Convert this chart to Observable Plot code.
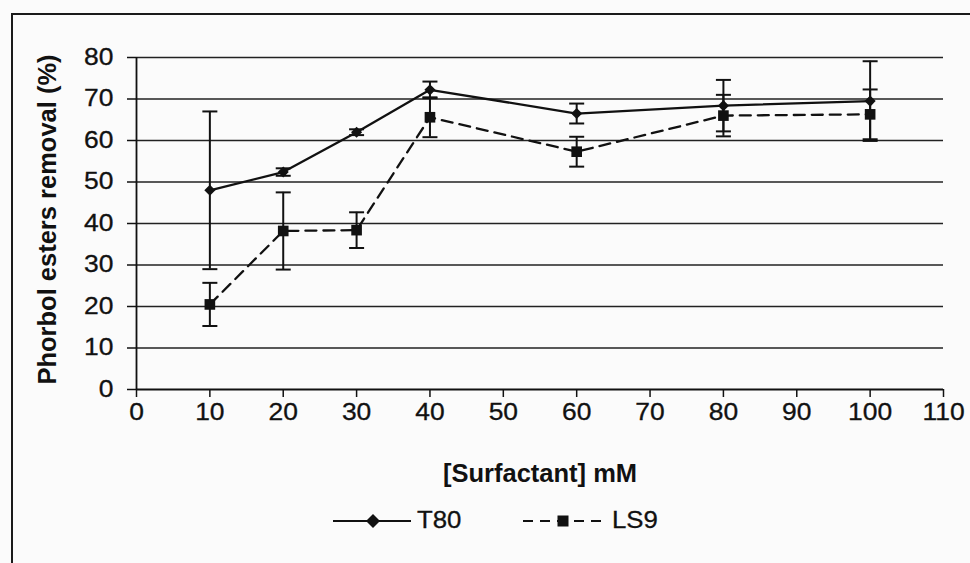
<!DOCTYPE html>
<html>
<head>
<meta charset="utf-8">
<script src="https://cdn.jsdelivr.net/npm/d3@7"></script>
<script src="https://cdn.jsdelivr.net/npm/@observablehq/plot@0.6"></script>
<style>
  body { margin: 0; background: #fbfbfb; }
  #wrap { position: relative; width: 970px; height: 563px; overflow: hidden; background: #fbfbfb;
          font-family: "Liberation Sans", Arial, sans-serif; color: #111; }
  #border { position: absolute; left: 11px; top: 13px; width: 3000px; height: 3000px;
            border-left: 2px solid #1a1a1a; border-top: 2px solid #1a1a1a; pointer-events: none; }
  #chart svg { display: block; }
  #legend { position: relative; width: 970px; height: 68px; }
  #legend .key { position: absolute; top: 14px; }
  #legend .lab { position: absolute; top: 12px; font-size: 23px; line-height: 26px;
                 transform: scaleX(1.12); transform-origin: left center; -webkit-text-stroke: 0.3px #111; }
</style>
</head>
<body>
<div id="wrap">
  <div id="chart"></div>
  <div id="legend">
    <svg class="key" style="left:333px" width="80" height="24"><line x1="0" y1="12" x2="78" y2="12" stroke="#111" stroke-width="2.2"/><path d="M40,5L47,12L40,19L33,12Z" fill="#111"/></svg>
    <span class="lab" style="left:417px">T80</span>
    <svg class="key" style="left:523px" width="86" height="24"><line x1="0" y1="12" x2="84" y2="12" stroke="#111" stroke-width="2.2" stroke-dasharray="10,7"/><rect x="34.5" y="6.5" width="11" height="11" fill="#111"/></svg>
    <span class="lab" style="left:612px">LS9</span>
  </div>
  <div id="border"></div>
</div>
<script>
// Data
const concentrations = [10, 20, 30, 40, 60, 80, 100];
const t80 = [48.0, 52.4, 62.0, 72.2, 66.5, 68.4, 69.5];
const t80Err = [19.0, 0.9, 0.7, 2.0, 2.4, 6.2, 9.6];
const ls9 = [20.5, 38.2, 38.4, 65.6, 57.3, 66.0, 66.3];
const ls9Err = [5.2, 9.3, 4.3, 4.8, 3.6, 5.0, 6.0];
const yTicks = [0, 10, 20, 30, 40, 50, 60, 70, 80];
const xTicks = [0, 10, 20, 30, 40, 50, 60, 70, 80, 90, 100, 110];
const xTitle = "[Surfactant] mM";
const yTitle = "Phorbol esters removal (%)";

const rows = (ys, errs, name) => concentrations.map((c, i) => ({c, v: ys[i], lo: ys[i] - errs[i], hi: ys[i] + errs[i], s: name}));
const T80 = rows(t80, t80Err, "T80");
const LS9 = rows(ls9, ls9Err, "LS9");
const all = T80.concat(LS9);

const cap = {draw(ctx, size) { const w = Math.sqrt(size / Math.PI); ctx.moveTo(-w, 0); ctx.lineTo(w, 0); }};
const ink = "#111";

const chart = Plot.plot({
  width: 970,
  height: 495,
  marginLeft: 136,
  marginRight: 27,
  marginTop: 57,
  marginBottom: 106,
  style: {fontFamily: "'Liberation Sans', Arial, sans-serif", fontSize: "23px", background: "transparent", color: ink},
  x: {domain: [0, 110], ticks: xTicks},
  y: {domain: [0, 80], ticks: yTicks},
  marks: [
    Plot.ruleY(yTicks.filter(d => d > 0), {stroke: "#222", strokeWidth: 1.5}),
    Plot.axisY({ticks: yTicks, tickSize: 9, tickPadding: 14, label: null, stroke: ink, strokeWidth: 1.5, fontSize: 23}),
    Plot.axisX({ticks: xTicks, tickSize: 8, tickPadding: 6, label: null, stroke: ink, strokeWidth: 1.5, fontSize: 23}),
    Plot.ruleY([0], {stroke: ink, strokeWidth: 1.8}),
    Plot.ruleX([0], {y1: 0, y2: 80, stroke: ink, strokeWidth: 1.8}),
    Plot.ruleX(all, {x: "c", y1: "lo", y2: "hi", stroke: ink, strokeWidth: 2}),
    Plot.dot(all, {x: "c", y: "lo", symbol: cap, r: 7.5, stroke: ink, strokeWidth: 2, fill: "none"}),
    Plot.dot(all, {x: "c", y: "hi", symbol: cap, r: 7.5, stroke: ink, strokeWidth: 2, fill: "none"}),
    Plot.line(T80, {x: "c", y: "v", stroke: ink, strokeWidth: 2.3}),
    Plot.line(LS9, {x: "c", y: "v", stroke: ink, strokeWidth: 2.3, strokeDasharray: "11,7"}),
    Plot.dot(T80, {x: "c", y: "v", symbol: "diamond2", r: 5, fill: ink, stroke: "none"}),
    Plot.dot(LS9, {x: "c", y: "v", symbol: "square", r: 6, fill: ink, stroke: "none"}),
    Plot.text([yTitle], {text: d => d, frameAnchor: "left", rotate: -90, dx: -89, dy: -4, textAnchor: "middle", lineAnchor: "middle", fontSize: 25.5, fontWeight: "bold", fill: ink}),
    Plot.text([xTitle], {text: d => d, frameAnchor: "bottom", dy: 84, textAnchor: "middle", lineAnchor: "middle", fontSize: 25.5, fontWeight: "bold", fill: ink})
  ]
});
document.getElementById("chart").appendChild(chart);

// Widen the tick labels slightly, as the reference glyphs are broader than Arial's
d3.select(chart).selectAll('g[aria-label="y-axis tick label"] text, g[aria-label="x-axis tick label"] text').each(function() {
  const len = this.getComputedTextLength();
  this.setAttribute("textLength", (len * 1.15).toFixed(1));
  this.setAttribute("lengthAdjust", "spacingAndGlyphs");
  this.setAttribute("stroke", ink);
  this.setAttribute("stroke-width", "0.3");
});
</script>
</body>
</html>
